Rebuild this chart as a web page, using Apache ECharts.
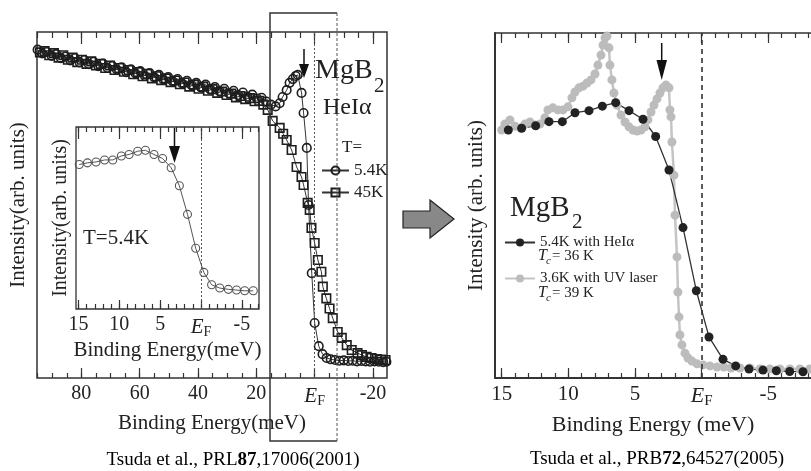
<!DOCTYPE html>
<html lang="en">
<head>
  <meta charset="utf-8">
  <title>MgB2 spectra</title>
  <script src="https://cdn.jsdelivr.net/npm/echarts@6/dist/echarts.min.js"></script>
  <style>html,body{margin:0;background:#fff}</style>
</head>
<body>
<div id="main" style="width:811px;height:471px;"></div>
<script type="text/javascript">
  var FONT = '"Liberation Serif", "DejaVu Serif", serif';

  // left panel, HeIα, [binding energy meV, intensity]
  const left54K = [
    [95.0,94.9],[93.4,93.8],[91.8,94.2],[90.2,93.1],[88.6,93.6],[87.0,92.4],[85.4,92.9],[83.8,91.8],[82.2,92.5],[80.6,91.2],
    [79.0,91.9],[77.4,90.7],[75.8,91.4],[74.2,90.1],[72.6,90.9],[71.0,89.6],[69.4,90.2],[67.8,89.1],[66.2,89.8],[64.6,88.4],
    [63.0,89.2],[61.4,88.0],[59.8,88.7],[58.2,87.3],[56.6,88.1],[55.0,86.9],[53.4,87.6],[51.8,86.2],[50.2,87.0],[48.6,85.7],
    [47.0,86.4],[45.4,85.1],[43.8,85.9],[42.2,84.6],[40.6,85.3],[39.0,84.0],[37.4,84.8],[35.8,83.4],[34.2,84.1],[32.6,82.9],
    [31.0,83.6],[29.4,82.3],[27.8,83.0],[26.2,81.8],[24.6,82.5],[23.0,81.3],[21.4,81.9],[19.8,80.8],[18.2,81.0],[16.6,79.9],
    [15.0,79.0],[13.4,78.5],[12.0,79.4],[11.0,81.2],[9.6,83.2],[8.6,85.3],[7.5,86.4],[6.5,87.3],[5.8,87.6],[4.5,82.4],
    [3.8,76.6],[2.7,66.5],[2.1,50.0],[1.0,30.3],[0.0,15.9],[-1.4,9.2],[-2.7,6.9],[-4.1,5.8],[-5.5,5.4],[-7.0,5.2],
    [-8.5,5.0],[-10.0,5.1],[-11.5,4.9],[-13.0,5.0],[-14.5,4.8],[-16.0,4.9],[-17.5,4.8],[-19.0,4.7],[-20.5,4.8],[-22.0,4.7],
    [-23.5,4.6],[-24.6,4.7]
  ];
  const left45K = [
    [94.2,94.1],[92.6,94.5],[91.0,93.3],[89.4,93.9],[87.8,92.6],[86.2,93.3],[84.6,92.0],[83.0,92.6],[81.4,91.3],[79.8,92.0],
    [78.2,90.8],[76.6,91.5],[75.0,90.3],[73.4,90.8],[71.8,89.6],[70.2,90.3],[68.6,89.0],[67.0,89.6],[65.4,88.5],[63.8,89.0],
    [62.2,87.8],[60.6,88.4],[59.0,87.2],[57.4,87.9],[55.8,86.6],[54.2,87.2],[52.6,86.1],[51.0,86.6],[49.4,85.5],[47.8,86.0],
    [46.2,84.9],[44.6,85.4],[43.0,84.2],[41.4,84.8],[39.8,83.6],[38.2,84.2],[36.6,83.0],[35.0,83.5],[33.4,82.4],[31.8,82.8],
    [30.2,81.8],[28.6,82.2],[27.0,81.1],[25.4,81.5],[23.8,80.6],[22.2,80.9],[20.6,80.0],[19.0,80.1],[17.6,79.0],[16.1,77.5],
    [14.4,74.3],[12.0,72.3],[10.8,70.6],[9.6,68.8],[7.9,65.9],[6.2,61.0],[4.5,58.1],[3.8,55.8],[2.4,50.6],[1.7,48.6],
    [1.1,43.4],[0.0,39.0],[-1.1,34.1],[-2.3,30.7],[-2.8,26.4],[-4.0,23.0],[-5.1,20.1],[-6.2,17.3],[-7.9,13.3],[-9.3,11.6],
    [-11.0,9.5],[-12.7,8.1],[-14.7,7.2],[-16.2,6.6],[-17.8,6.1],[-19.5,5.8],[-21.3,5.5],[-22.8,5.3],[-24.3,5.2]
  ];
  // inset, T=5.4K
  const inset54K = [
    [14.9,79.4],[13.9,80.3],[12.85,80.8],[11.8,81.9],[10.8,81.9],[9.75,84.1],[8.8,84.9],[7.75,86.7],[6.8,87.2],[5.75,84.9],
    [4.7,82.7],[3.65,77.6],[2.65,67.7],[1.65,52.0],[0.65,33.4],[-0.35,20.1],[-1.3,13.3],[-2.3,11.5],[-3.35,10.8],[-4.35,10.4],
    [-5.35,10.0],[-6.4,10.0]
  ];
  // right panel
  const rightHe = [
    [14.5,71.9],[13.5,72.4],[12.45,73.1],[11.45,74.3],[10.45,74.3],[9.5,76.9],[8.45,77.5],[7.45,78.8],[6.45,79.8],[5.45,77.5],
    [4.4,75.0],[3.45,70.0],[2.45,60.3],[1.4,43.6],[0.4,25.3],[-0.55,11.9],[-1.6,5.4],[-2.55,3.5],[-3.55,2.6],[-4.6,2.3],
    [-5.6,2.1],[-6.6,1.9],[-7.6,1.8]
  ];
  const rightUV = [
    [15.0,71.9],[14.76,73.6],[14.38,74.8],[14.0,73.0],[13.6,72.5],[13.26,73.6],[12.88,74.2],[12.5,73.3],[12.13,73.6],[11.76,75.4],
    [11.53,77.7],[11.16,78.3],[10.78,77.7],[10.4,77.7],[10.03,78.6],[9.73,81.2],[9.5,82.9],[9.2,84.1],[8.9,84.6],[8.6,85.5],
    [8.3,86.4],[8.0,88.1],[7.78,90.7],[7.55,93.6],[7.4,96.5],[7.25,98.6],[7.1,99.1],[6.95,95.7],[6.88,90.7],[6.73,86.4],
    [6.58,82.6],[6.35,79.1],[6.05,76.2],[5.75,74.2],[5.45,72.8],[5.15,71.9],[4.85,71.6],[4.55,71.9],[4.25,72.8],[4.03,74.8],
    [3.8,77.1],[3.58,79.1],[3.35,80.9],[3.13,82.6],[2.9,84.1],[2.68,84.9],[2.45,84.1],[2.38,77.7],[2.3,75.7],[2.23,68.4],
    [2.08,58.8],[2.0,47.2],[1.85,35.1],[1.78,24.9],[1.7,17.7],[1.63,12.5],[1.48,9.6],[1.25,7.2],[1.03,5.8],[0.73,4.9],
    [0.35,4.1],[-0.1,3.8],[-0.62,3.5],[-1.15,3.2],[-1.67,3.2],[-2.2,2.9],[-2.87,2.9],[-3.62,2.9],[-4.37,2.6],[-5.12,2.6],
    [-5.87,2.6],[-6.62,2.6],[-7.37,2.6],[-8.1,2.6]
  ];

  const leftMajor = [80, 60, 40, 20, 0, -20];
  const leftMinor = [95, 90, 85, 80, 75, 70, 65, 60, 55, 50, 45, 40, 35, 30, 25, 20, 15, 10, 5, 0, -5, -10, -15, -20];
  const zoomMajor = [15, 10, 5, 0, -5];
  const insetMinor = [15, 14, 13, 12, 11, 10, 9, 8, 7, 6, 5, 4, 3, 2, 1, 0, -1, -2, -3, -4, -5, -6, -7];
  const rightMinor = [15, 14, 13, 12, 11, 10, 9, 8, 7, 6, 5, 4, 3, 2, 1, 0, -1, -2, -3, -4, -5, -6, -7, -8];

  var myChart = echarts.init(document.getElementById('main'));

  function tickAxis(grid, pos, min, max, ticks, len) {
    return {
      type: 'value', gridIndex: grid, position: pos, min: min, max: max, inverse: true,
      axisLine: { show: false, onZero: false },
      axisTick: { show: true, inside: true, length: len, customValues: ticks, lineStyle: { color: '#333', width: 1.2 } },
      axisLabel: { show: false },
      splitLine: { show: false }
    };
  }
  function withLabels(ax, fs, name, nameGap, nameFs) {
    ax.axisLabel = {
      show: true, customValues: ax.axisTick.customValues, margin: 6,
      fontFamily: FONT, fontSize: fs, color: '#222',
      formatter: function (v) { return v === 0 ? '{e|E}{f|F}' : String(v); },
      rich: {
        e: { fontFamily: FONT, fontStyle: 'italic', fontSize: fs + 1, color: '#222' },
        f: { fontFamily: FONT, fontSize: fs - 6, color: '#222', padding: [10, 0, 0, 0] }
      }
    };
    ax.name = name;
    ax.nameLocation = 'middle';
    ax.nameGap = nameGap;
    ax.nameTextStyle = { fontFamily: FONT, fontSize: nameFs, color: '#222' };
    return ax;
  }
  function yAx(grid, gap, fs, name, line) {
    return {
      type: 'value', gridIndex: grid, min: 0, max: 100,
      axisLine: { show: line, onZero: false, lineStyle: { color: '#333', width: 2 } },
      axisTick: { show: false }, axisLabel: { show: false }, splitLine: { show: false },
      name: name, nameLocation: 'middle', nameGap: gap,
      nameTextStyle: { fontFamily: FONT, fontSize: fs, color: '#222' }
    };
  }

  var rightBottom = withLabels(tickAxis(2, 'bottom', -8.2, 15.5, zoomMajor, 10), 21, 'Binding Energy (meV)', 28, 22);
  rightBottom.axisLine = { show: true, onZero: false, lineStyle: { color: '#333', width: 2 } };
  var rightTop = tickAxis(2, 'top', -8.2, 15.5, zoomMajor, 10);
  rightTop.axisLine = { show: true, onZero: false, lineStyle: { color: '#333', width: 1.5 } };

  var hollow = { color: 'rgba(0,0,0,0)', borderColor: '#1e1e1e', borderWidth: 1.6 };

  myChart.setOption({
    animation: false,
    grid: [
      { left: 37, top: 32, width: 350, height: 346, show: true, borderColor: '#333', borderWidth: 1.5 },
      { left: 76, top: 127, width: 183, height: 182, show: true, borderColor: '#333', borderWidth: 1.3, backgroundColor: '#fff' },
      { left: 495, top: 33, width: 316, height: 345 }
    ],
    legend: [
      {
        left: 316, top: 157, orient: 'vertical', itemWidth: 27, itemHeight: 10, itemGap: 5, selectedMode: false,
        data: ['5.4K', '45K'], textStyle: { fontFamily: FONT, fontSize: 17, color: '#222' }
      },
      {
        left: 499, top: 230, orient: 'vertical', itemWidth: 30, itemHeight: 10, itemGap: 21, selectedMode: false,
        data: ['5.4K with HeIα', '3.6K with UV laser'], textStyle: { fontFamily: FONT, fontSize: 15, color: '#222' }
      }
    ],
    xAxis: [
      withLabels(tickAxis(0, 'bottom', -24.8, 95.2, leftMajor, 10), 20, 'Binding Energy(meV)', 28, 21),
      tickAxis(0, 'bottom', -24.8, 95.2, leftMinor, 5),
      tickAxis(0, 'top', -24.8, 95.2, leftMajor, 12),
      tickAxis(0, 'top', -24.8, 95.2, leftMinor, 6),
      withLabels(tickAxis(1, 'bottom', -7.1, 15.3, zoomMajor, 9), 20, 'Binding Energy(meV)', 27, 21),
      tickAxis(1, 'bottom', -7.1, 15.3, insetMinor, 5),
      tickAxis(1, 'top', -7.1, 15.3, zoomMajor, 12),
      tickAxis(1, 'top', -7.1, 15.3, insetMinor, 5),
      rightBottom,
      tickAxis(2, 'bottom', -8.2, 15.5, rightMinor, 5),
      rightTop,
      tickAxis(2, 'top', -8.2, 15.5, rightMinor, 5)
    ],
    yAxis: [
      yAx(0, 8, 21, 'Intensity(arb. units)', false),
      yAx(1, 5, 20, 'Intensity(arb. units)', false),
      yAx(2, 8, 21, 'Intensity (arb. units)', true)
    ],
    series: [
      {
        name: '45K', type: 'line', xAxisIndex: 0, yAxisIndex: 0, data: left45K,
        symbol: 'rect', symbolSize: 8.5, itemStyle: hollow, lineStyle: { color: '#333', width: 1 }
      },
      {
        name: '5.4K', type: 'line', xAxisIndex: 0, yAxisIndex: 0, data: left54K,
        symbol: 'circle', symbolSize: 8.5, itemStyle: hollow, lineStyle: { color: '#333', width: 1 },
        markLine: { silent: true, symbol: 'none', label: { show: false },
          lineStyle: { color: '#555', type: [2, 2], width: 1 }, data: [{ xAxis: 0 }] }
      },
      {
        name: 'inset', type: 'line', xAxisIndex: 4, yAxisIndex: 1, data: inset54K,
        symbol: 'circle', symbolSize: 8,
        itemStyle: { color: 'rgba(0,0,0,0)', borderColor: '#555', borderWidth: 1.1 },
        lineStyle: { color: '#555', width: 1 },
        markLine: { silent: true, symbol: 'none', label: { show: false },
          lineStyle: { color: '#555', type: [2, 2], width: 1 }, data: [{ xAxis: 0 }] }
      },
      {
        name: '3.6K with UV laser', type: 'line', xAxisIndex: 8, yAxisIndex: 2, data: rightUV,
        symbol: 'circle', symbolSize: 9, itemStyle: { color: '#bcbcbc' },
        lineStyle: { color: '#c4c4c4', width: 2.5 }
      },
      {
        name: '5.4K with HeIα', type: 'line', xAxisIndex: 8, yAxisIndex: 2, data: rightHe,
        symbol: 'circle', symbolSize: 9, itemStyle: { color: '#222' },
        lineStyle: { color: '#333', width: 1.3 },
        markLine: { silent: true, symbol: 'none', label: { show: false },
          lineStyle: { color: '#333', type: [5, 4], width: 1.6 }, data: [{ xAxis: 0 }] }
      }
    ],
    graphic: [
      // zoom window on the left panel
      { type: 'polyline', shape: { points: [[337, 13], [270, 13], [270, 441], [337, 441]] },
        style: { stroke: '#333', lineWidth: 1.5, fill: 'none' }, z: 10 },
      { type: 'line', shape: { x1: 337, y1: 13, x2: 337, y2: 441 },
        style: { stroke: '#555', lineWidth: 1, lineDash: [3, 2] }, z: 10 },
      // gap arrows
      { type: 'line', shape: { x1: 304, y1: 49, x2: 304, y2: 66 }, style: { stroke: '#111', lineWidth: 1.5 }, z: 10 },
      { type: 'polygon', shape: { points: [[299, 64], [309, 64], [304, 78]] }, style: { fill: '#111' }, z: 10 },
      { type: 'line', shape: { x1: 174.5, y1: 128, x2: 174.5, y2: 148 }, style: { stroke: '#111', lineWidth: 1.5 }, z: 10 },
      { type: 'polygon', shape: { points: [[169, 146], [180, 146], [174.5, 163]] }, style: { fill: '#111' }, z: 10 },
      { type: 'line', shape: { x1: 661.7, y1: 43, x2: 661.7, y2: 62 }, style: { stroke: '#111', lineWidth: 1.5 }, z: 10 },
      { type: 'polygon', shape: { points: [[656.5, 60], [667, 60], [661.7, 80]] }, style: { fill: '#111' }, z: 10 },
      // big arrow between panels
      { type: 'polygon', shape: { points: [[403, 211], [430, 211], [430, 200], [454, 219], [430, 238], [430, 228], [403, 228]] },
        style: { fill: '#888', stroke: '#222', lineWidth: 1.2 }, z: 10 },
      // texts
      { type: 'text', x: 315, y: 71, z: 10, style: { text: 'MgB', font: '28px ' + FONT, fill: '#222', verticalAlign: 'middle' } },
      { type: 'text', x: 374, y: 86, z: 10, style: { text: '2', font: '21px ' + FONT, fill: '#222', verticalAlign: 'middle' } },
      { type: 'text', x: 323, y: 108, z: 10, style: { text: 'HeIα', font: '24px ' + FONT, fill: '#222', verticalAlign: 'middle' } },
      { type: 'text', x: 342, y: 148, z: 10, style: { text: 'T=', font: '17px ' + FONT, fill: '#222', verticalAlign: 'middle' } },
      { type: 'text', x: 83, y: 238, z: 10, style: { text: 'T=5.4K', font: '21px ' + FONT, fill: '#222', verticalAlign: 'middle' } },
      { type: 'text', x: 510, y: 208, z: 10, style: { text: 'MgB', font: '29px ' + FONT, fill: '#222', verticalAlign: 'middle' } },
      { type: 'text', x: 572, y: 222, z: 10, style: { text: '2', font: '21px ' + FONT, fill: '#222', verticalAlign: 'middle' } },
      { type: 'text', x: 538, y: 256, z: 10, style: { text: 'T', font: 'italic 16px ' + FONT, fill: '#222', verticalAlign: 'middle' } },
      { type: 'text', x: 546, y: 261, z: 10, style: { text: 'c', font: 'italic 11px ' + FONT, fill: '#222', verticalAlign: 'middle' } },
      { type: 'text', x: 552, y: 256, z: 10, style: { text: '= 36 K', font: '15px ' + FONT, fill: '#222', verticalAlign: 'middle' } },
      { type: 'text', x: 538, y: 293, z: 10, style: { text: 'T', font: 'italic 16px ' + FONT, fill: '#222', verticalAlign: 'middle' } },
      { type: 'text', x: 546, y: 298, z: 10, style: { text: 'c', font: 'italic 11px ' + FONT, fill: '#222', verticalAlign: 'middle' } },
      { type: 'text', x: 552, y: 293, z: 10, style: { text: '= 39 K', font: '15px ' + FONT, fill: '#222', verticalAlign: 'middle' } },
      { type: 'text', x: 233, y: 460, z: 10, style: {
          text: '{n|Tsuda et al., PRL}{b|87}{n|,17006(2001)}', align: 'center', verticalAlign: 'middle',
          rich: { n: { fontFamily: FONT, fontSize: 19, color: '#222' }, b: { fontFamily: FONT, fontSize: 19, fontWeight: 'bold', color: '#222' } } } },
      { type: 'text', x: 657, y: 459, z: 10, style: {
          text: '{n|Tsuda et al., PRB}{b|72}{n|,64527(2005)}', align: 'center', verticalAlign: 'middle',
          rich: { n: { fontFamily: FONT, fontSize: 19, color: '#222' }, b: { fontFamily: FONT, fontSize: 19, fontWeight: 'bold', color: '#222' } } } }
    ]
  });
</script>
</body>
</html>
